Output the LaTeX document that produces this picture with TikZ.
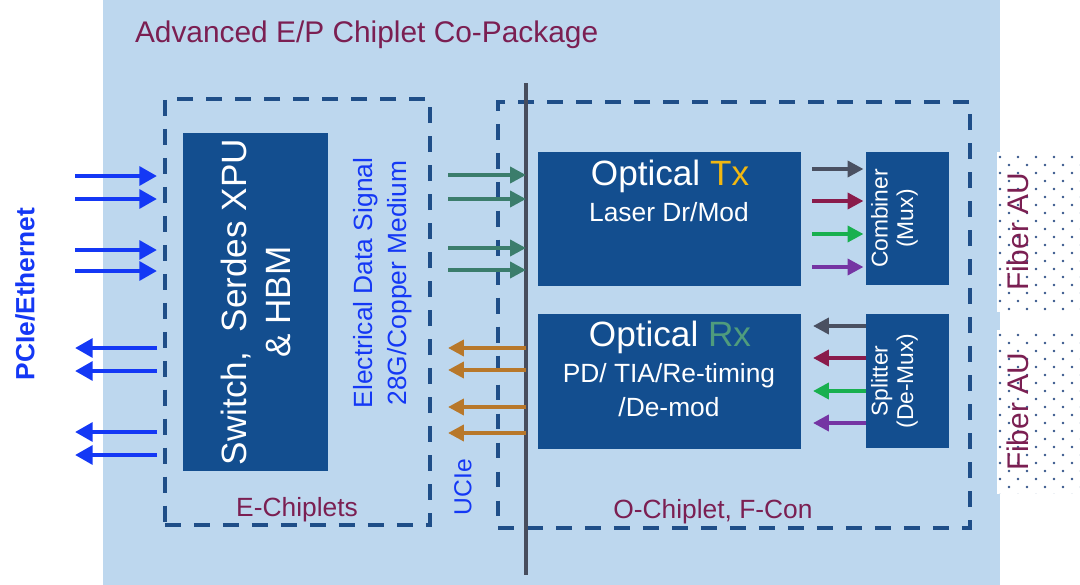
\documentclass[tikz,border=0pt]{standalone}
\usepackage{fontspec}
\setmainfont{Liberation Sans}
\usetikzlibrary{positioning}
\usetikzlibrary{arrows.meta}
\usetikzlibrary{calc}

\definecolor{pkgblue}{HTML}{BDD7EE}
\definecolor{boxblue}{HTML}{134E8F}
\definecolor{dashblue}{HTML}{1F4E88}
\definecolor{titlered}{HTML}{7B1F52}
\definecolor{sigblue}{HTML}{1438F5}
\definecolor{tealarrow}{HTML}{3B7D6C}
\definecolor{orangearrow}{HTML}{B8782A}
\definecolor{txgold}{HTML}{F2B811}
\definecolor{rxgreen}{HTML}{4F9C7D}
\definecolor{lanegray}{HTML}{4A5061}
\definecolor{lanered}{HTML}{8A1B4B}
\definecolor{lanegreen}{HTML}{18B04F}
\definecolor{lanepurple}{HTML}{7534A3}
\definecolor{ucigray}{HTML}{474D5D}
\definecolor{dotblue}{HTML}{35568A}

\begin{document}
\begin{tikzpicture}[x=0.02cm, y=-0.02cm,
		every node/.style={inner sep=0pt, outer sep=0pt},
		box/.style={fill=boxblue, text=white, anchor=north west},
		chipframe/.style={draw=dashblue, line width=2.3pt, dash pattern=on 9pt off 7.5pt, anchor=north west},
		fiberbox/.style={fill=white, anchor=north west, minimum width=1.66cm},
		sig/.style={line width=2.6pt, -{Triangle[length=10pt,width=10.5pt]}},
		lane/.style={line width=2.2pt, -{Triangle[length=9pt,width=9pt]}},
		f13/.style={font=\fontsize{13}{14.5}\selectfont},
		f15/.style={font=\fontsize{15}{19.5}\selectfont},
		f17/.style={font=\fontsize{17}{20}\selectfont},
		f20/.style={font=\fontsize{20}{25}\selectfont}
		]
		\useasboundingbox[fill=white] (0,0) rectangle (1080,585);
		\node (pkg) [fill=pkgblue, anchor=north west, minimum width=17.94cm, minimum height=11.7cm] at (103,0) {};
		\node (title) [f17, text=titlered, anchor=base west] at (135,42) {Advanced E/P Chiplet Co-Package};

		% E side
		\node (echip) [chipframe, minimum width=5.3cm, minimum height=8.52cm] at (165,99) {};
		\node (echiplbl) [f15, text=titlered] at (297,510) {E-Chiplets};
		\node (sw) [box, minimum width=2.9cm, minimum height=6.76cm] at (183,133) {};
		\node (swlbl) [f20, text=white, rotate=90, align=center] at (sw.center) {Switch,\ \ Serdes XPU\\\& HBM};
		\node (elec) [f15, text=sigblue, rotate=90, align=center] at (383,283) {Electrical Data Signal\\28G/Copper Medium};
		\node (pcie) [font=\fontsize{15}{18}\selectfont\bfseries, text=sigblue, rotate=90] at (25,294) {PCIe/Ethernet};

		% UCIe boundary
		\coordinate (ucitop) at (526,83);
		\coordinate (ucibot) at (526,575);
		\node (ucilbl) [font=\fontsize{14}{17}\selectfont, text=sigblue, rotate=90] at (463,487) {UCIe};

		% O side
		\node (ochip) [chipframe, minimum width=9.44cm, minimum height=8.52cm] at (498,102) {};
		\node (ochiplbl) [f15, text=titlered] at (713,512) {O-Chiplet, F-Con};
		\node (tx) [box, minimum width=5.26cm, minimum height=2.68cm] at (538,152) {};
		\node (txtitle) [f20, text=white] at (670,176) {Optical \textcolor{txgold}{Tx}};
		\node (txsub) [f15, text=white] at (669,212) {Laser Dr/Mod};
		\node (rx) [box, minimum width=5.26cm, minimum height=2.7cm] at (538,314) {};
		\node (rxtitle) [f20, text=white] at (670,337) {Optical \textcolor{rxgreen}{Rx}};
		\node (rxsub) [f15, text=white, align=center] at (669,390) {PD/ TIA/Re-timing\\/De-mod};
		\node (comb) [box, minimum width=1.66cm, minimum height=2.66cm] at (866,152) {};
		\node (comblbl) [f13, text=white, rotate=90, align=center] at ([xshift=-0.26cm]comb.center) {Combiner\\(Mux)};
		\node (split) [box, minimum width=1.66cm, minimum height=2.68cm] at (866,314) {};
		\node (splitlbl) [f13, text=white, rotate=90, align=center] at ([xshift=-0.26cm]split.center) {Splitter\\(De-Mux)};

		% fiber attach units
		\node (fib1) [fiberbox, minimum height=3.2cm] at (997,152) {};
		\node (fib2) [fiberbox, minimum height=3.28cm] at (997,330) {};
		\foreach \f in {fib1,fib2} {
			\begin{scope}
				\clip (\f.north west) rectangle (\f.south east);
				\foreach \j in {0,...,21}
					\foreach \i in {0,...,4}
						\fill[dotblue] ($(\f.north west)+({3+9*mod(\j,2)+18*\i},{5+8*\j})$) circle (0.75pt);
			\end{scope}
			\node [font=\fontsize{17}{20}\selectfont, text=titlered, rotate=90] at ([xshift=-0.42cm]\f.center) {Fiber AU};
		}

		\draw[ucigray, line width=2.3pt] (ucitop) -- (ucibot);

		% host lanes
		\foreach \y in {176,199,250,271} {
			\coordinate (hin\y) at (75,\y);
			\draw[sig, sigblue, shorten >=0.16cm] (hin\y) -- (hin\y -| echip.west);
		}
		\foreach \y in {348,371,432,455} {
			\coordinate (hout\y) at (75,\y);
			\draw[sig, sigblue, shorten <=0.16cm] (hout\y -| echip.west) -- (hout\y);
		}

		% UCIe lanes
		\foreach \y in {175,199,248,270} {
			\coordinate (utx\y) at (448,\y);
			\draw[lane, tealarrow] (utx\y) -- (utx\y -| ucitop);
		}
		\foreach \y in {348,370,407,433} {
			\coordinate (urx\y) at (448,\y);
			\draw[lane, orangearrow] (urx\y -| ucitop) -- (urx\y);
		}

		% wavelength lanes
		\foreach \y/\c in {169/lanegray,201/lanered,234/lanegreen,267/lanepurple} {
			\coordinate (mux\y) at (812,\y);
			\draw[lane, \c, shorten >=0.05cm] (mux\y) -- (mux\y -| comb.west);
		}
		\foreach \y/\c in {326/lanegray,358/lanered,391/lanegreen,423/lanepurple} {
			\coordinate (dmx\y) at (813,\y);
			\draw[lane, \c] (dmx\y -| split.west) -- (dmx\y);
		}
	\end{tikzpicture}
\end{document}
